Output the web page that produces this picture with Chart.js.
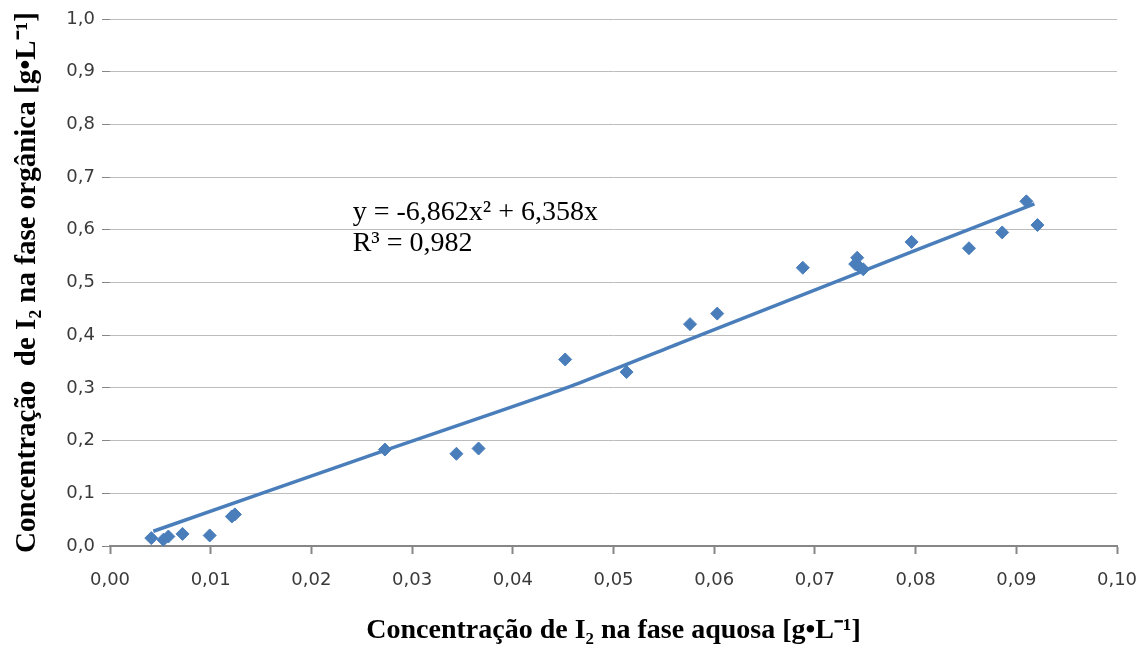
<!DOCTYPE html>
<html>
<head>
<meta charset="utf-8">
<script src="https://cdn.jsdelivr.net/npm/chart.js@4"></script>
<style>
  html, body { margin: 0; padding: 0; background: #fff; }
  #wrap { width: 1142px; height: 648px; }
</style>
</head>
<body>
<div id="wrap"><canvas id="myChart" width="1142" height="648"></canvas></div>
<script>
// 実測値 (ラベルを読み取り)
const aqX = [0.0041, 0.0053, 0.0058, 0.0072, 0.0099, 0.0121, 0.0124, 0.0273, 0.0344, 0.0366,
             0.0452, 0.0513, 0.0576, 0.0603, 0.0688, 0.0740, 0.0742, 0.0744, 0.0748, 0.0796,
             0.0853, 0.0886, 0.0910, 0.0921];
const orgY = [0.015, 0.012, 0.018, 0.023, 0.020, 0.056, 0.060, 0.183, 0.175, 0.185,
              0.354, 0.330, 0.421, 0.441, 0.528, 0.535, 0.547, 0.530, 0.525, 0.577,
              0.565, 0.595, 0.654, 0.609];

// 近似曲線
const trendX = [0.0043, 0.0268, 0.0453, 0.0566, 0.0764, 0.0852, 0.0918];
const trendY = [0.028, 0.178, 0.300, 0.385, 0.534, 0.600, 0.649];

const eqLines = ['y = -6,862x² + 6,358x', 'R³ = 0,982'];

const blue = '#4a7ebb';
const tickFont = { family: '"DejaVu Sans", Verdana, sans-serif', size: 18 };
const serif = '"Liberation Serif", "Times New Roman", serif';

// 式のラベルを描く
const eqLabel = {
    id: 'eqLabel',
    afterDatasetsDraw(chart) {
        const ctx = chart.ctx;
        const xs = chart.scales.x, ys = chart.scales.y;
        ctx.save();
        ctx.fillStyle = '#000';
        ctx.font = '28px ' + serif;
        ctx.textAlign = 'left';
        ctx.textBaseline = 'middle';
        ctx.fillText(eqLines[0], xs.getPixelForValue(0.0241), ys.getPixelForValue(0.633));
        ctx.fillText(eqLines[1], xs.getPixelForValue(0.0241), ys.getPixelForValue(0.574));
        ctx.restore();
    }
};

const ctx = document.getElementById('myChart').getContext('2d');
const myChart = new Chart(ctx, {
    type: 'scatter',
    data: {
        datasets: [
        {
            label: 'pontos',
            data: aqX.map((x, i) => ({ x: x, y: orgY[i] })),
            pointStyle: 'rectRot',
            pointRadius: 6.5,
            backgroundColor: blue,
            borderColor: blue,
            borderWidth: 1
        },
        {
            label: 'tendência',
            data: trendX.map((x, i) => ({ x: x, y: trendY[i] })),
            showLine: true,
            pointRadius: 0,
            borderColor: blue,
            borderWidth: 3.5,
            tension: 0.2,
            fill: false
        }
        ]
    },
    options: {
        responsive: false,
        animation: false,
        layout: { padding: { top: 19, right: 25, left: 0, bottom: 0 } },
        plugins: {
            legend: { display: false },
            tooltip: { enabled: false }
        },
        scales: {
            x: {
                type: 'linear',
                min: 0,
                max: 0.1,
                afterFit: s => { s.height = 102; s.paddingRight = 0; s.paddingLeft = 0; },
                ticks: {
                    stepSize: 0.01,
                    padding: 16,
                    color: '#3a3a3a',
                    font: tickFont,
                    maxRotation: 0,
                    callback: v => v.toFixed(2).replace('.', ',')
                },
                grid: {
                    display: true,
                    drawOnChartArea: false,
                    drawTicks: true,
                    tickLength: 8,
                    tickColor: '#868686',
                    tickWidth: 2
                },
                border: { display: true, color: '#868686', width: 2 },
                title: {
                    display: true,
                    text: 'Concentração de I₂ na fase aquosa [g•L⁻¹]',
                    color: '#000',
                    font: { family: serif, size: 28, weight: 'bold' },
                    padding: { top: 0, bottom: 0 }
                }
            },
            y: {
                type: 'linear',
                min: 0,
                max: 1,
                afterFit: s => { s.width = 110; },
                ticks: {
                    stepSize: 0.1,
                    padding: 7,
                    color: '#3a3a3a',
                    font: tickFont,
                    callback: v => v.toFixed(1).replace('.', ',')
                },
                grid: {
                    color: '#bcbcbc',
                    lineWidth: 1,
                    drawTicks: true,
                    tickLength: 8,
                    tickColor: '#868686'
                },
                border: { display: false },
                title: {
                    display: true,
                    text: 'Concentração  de I₂ na fase orgânica [g•L⁻¹]',
                    color: '#000',
                    font: { family: serif, size: 29, weight: 'bold' },
                    padding: { top: 10, bottom: 0 }
                }
            }
        }
    },
    plugins: [eqLabel]
});
</script>
</body>
</html>
